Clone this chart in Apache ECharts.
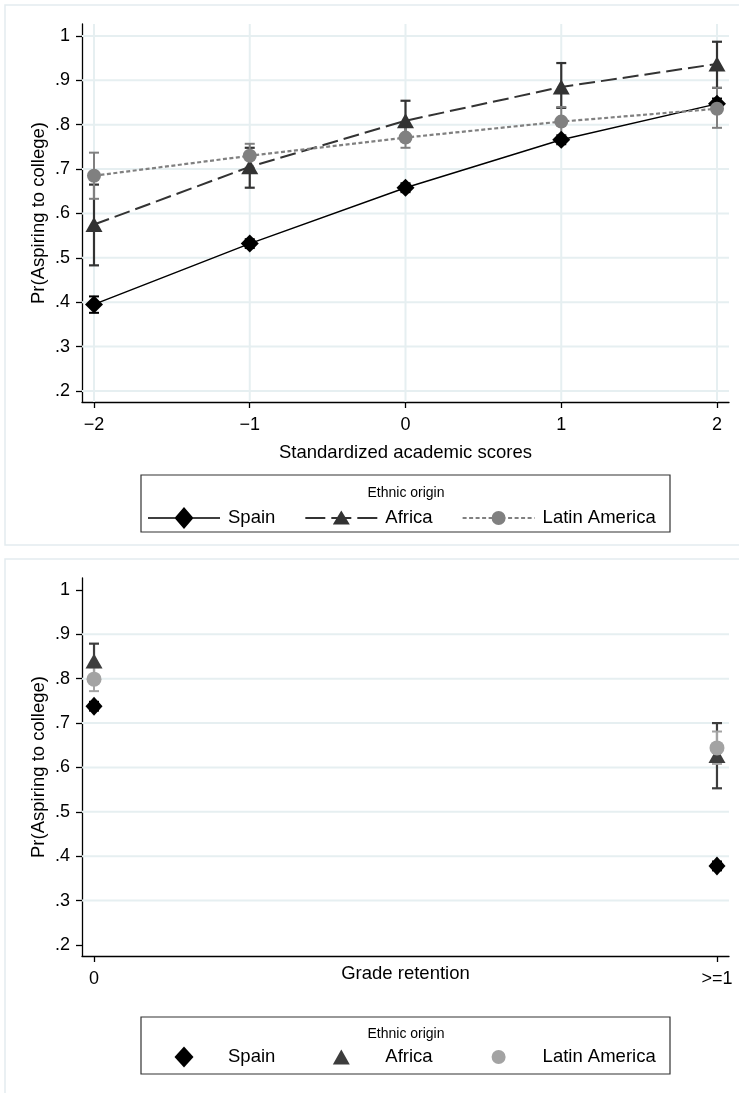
<!DOCTYPE html>
<html><head><meta charset="utf-8">
<script src="https://cdn.jsdelivr.net/npm/echarts@6/dist/echarts.min.js"></script>
<style>html,body{margin:0;padding:0;background:#fff}#chart{width:739px;height:1093px}</style>
</head><body><div id="chart"></div>
<script>
// ---- data: top panel (standardized academic scores) ----
const scoreValues = [-2, -1, 0, 1, 2];
const scoreTickLabels = ['\u22122', '\u22121', '0', '1', '2'];
const probTickValues = [0.2, 0.3, 0.4, 0.5, 0.6, 0.7, 0.8, 0.9, 1];
const probTickLabels = ['.2', '.3', '.4', '.5', '.6', '.7', '.8', '.9', '1'];
const seriesNames = ['Spain', 'Africa', 'Latin America'];

const spainScore   = [0.395, 0.532, 0.658, 0.766, 0.847];
const spainScoreLo = [0.376, 0.522, 0.648, 0.756, 0.835];
const spainScoreHi = [0.413, 0.542, 0.668, 0.776, 0.859];
const africaScore   = [0.575, 0.705, 0.809, 0.885, 0.937];
const africaScoreLo = [0.483, 0.658, 0.764, 0.838, 0.883];
const africaScoreHi = [0.665, 0.748, 0.854, 0.939, 0.987];
const latamScore   = [0.685, 0.730, 0.771, 0.807, 0.836];
const latamScoreLo = [0.633, 0.703, 0.748, 0.774, 0.793];
const latamScoreHi = [0.737, 0.757, 0.795, 0.840, 0.883];

// ---- data: bottom panel (grade retention) ----
const retentionValues = [0, 1];
const retentionTickLabels = ['0', '>=1'];
const bottomGridValues = [0.3, 0.4, 0.5, 0.6, 0.7, 0.8, 0.9];
const spainRet   = [0.738, 0.378];
const spainRetLo = [0.728, 0.368];
const spainRetHi = [0.748, 0.388];
const africaRet   = [0.840, 0.627];
const africaRetLo = [0.800, 0.553];
const africaRetHi = [0.879, 0.700];
const latamRet   = [0.799, 0.644];
const latamRetLo = [0.772, 0.608];
const latamRetHi = [0.826, 0.681];

// ---- helpers ----
const FONT = '"Liberation Sans", Arial, Helvetica, sans-serif';
function labelFor(values, labels) {
  return function (v) {
    const i = values.findIndex(t => Math.abs(t - v) < 1e-6);
    return i >= 0 ? labels[i] : '';
  };
}
const GRID_COLOR = '#e6eff1';
function hGridSeries(xi, yi, values) {
  return {
    type: 'custom', xAxisIndex: xi, yAxisIndex: yi, silent: true, z: 1,
    data: values.map(v => [v]), encode: { y: 0 },
    renderItem: function (params, api) {
      const cs = params.coordSys;
      const p = api.coord([0, api.value(0)]);
      return { type: 'line', shape: { x1: cs.x, y1: p[1], x2: cs.x + cs.width, y2: p[1] },
        style: { stroke: GRID_COLOR, lineWidth: 2 } };
    }
  };
}
function vGridSeries(xi, yi, values) {
  return {
    type: 'custom', xAxisIndex: xi, yAxisIndex: yi, silent: true, z: 1,
    data: values.map(v => [v]), encode: { x: 0 },
    renderItem: function (params, api) {
      const cs = params.coordSys;
      const p = api.coord([api.value(0), 0.5]);
      return { type: 'line', shape: { x1: p[0], y1: cs.y, x2: p[0], y2: cs.y + cs.height },
        style: { stroke: GRID_COLOR, lineWidth: 2 } };
    }
  };
}
function errSeries(xi, yi, xs, lo, hi, color, width, cap) {
  return {
    type: 'custom', xAxisIndex: xi, yAxisIndex: yi, silent: true, z: 2,
    data: xs.map((x, i) => [x, lo[i], hi[i]]), encode: { x: 0, y: [1, 2] },
    renderItem: function (params, api) {
      const x = api.value(0);
      const a = api.coord([x, api.value(1)]);
      const b = api.coord([x, api.value(2)]);
      const st = { stroke: color, lineWidth: width };
      return { type: 'group', children: [
        { type: 'line', shape: { x1: a[0], y1: a[1], x2: b[0], y2: b[1] }, style: st },
        { type: 'line', shape: { x1: a[0] - cap, y1: a[1], x2: a[0] + cap, y2: a[1] }, style: st },
        { type: 'line', shape: { x1: b[0] - cap, y1: b[1], x2: b[0] + cap, y2: b[1] }, style: st }
      ] };
    }
  };
}
function lineSeries(name, xs, ys, color, lineType, lineWidth, symbol, size) {
  return {
    name: name, type: 'line', xAxisIndex: 0, yAxisIndex: 0, z: 2,
    data: xs.map((x, i) => [x, ys[i]]),
    symbol: symbol, symbolSize: size, showSymbol: true,
    lineStyle: { color: color, width: lineWidth, type: lineType },
    itemStyle: { color: color, borderWidth: 0 },
    emphasis: { disabled: true }
  };
}
function scatterSeries(name, xs, ys, color, symbol, size) {
  return {
    name: name, type: 'scatter', xAxisIndex: 1, yAxisIndex: 1, z: 2,
    data: xs.map((x, i) => [x, ys[i]]),
    symbol: symbol, symbolSize: size,
    itemStyle: { color: color, opacity: 1, borderWidth: 0 },
    emphasis: { disabled: true }
  };
}
const axisLineStyle = { color: '#000', width: 1.3 };
function yAxisCfg(gi) {
  return {
    gridIndex: gi, type: 'value', min: 0.175, max: 1.027,
    axisLine: { show: true, onZero: false, lineStyle: axisLineStyle },
    axisTick: { show: true, length: 6, customValues: probTickValues, lineStyle: axisLineStyle },
    axisLabel: { customValues: probTickValues, formatter: labelFor(probTickValues, probTickLabels),
      fontSize: 18, color: '#000', margin: 12, fontFamily: FONT },
    splitLine: { show: false },
    name: 'Pr(Aspiring to college)', nameLocation: 'middle', nameGap: 34, nameMoveOverlap: false,
    nameTextStyle: { fontSize: 18.5, color: '#000', fontFamily: FONT }
  };
}

const C_SPAIN = '#000000', C_AFR = '#333333', C_LAT = '#808080';
const C_AFR2 = '#3d3d3d', C_LAT2 = '#a3a3a3';

// ---- legend key drawings (72 px wide key boxes) ----
function hBar(x1, x2, yc, h) {
  const y1 = yc - h / 2, y2 = yc + h / 2;
  return 'M' + x1 + ',' + y1 + 'L' + x2 + ',' + y1 + 'L' + x2 + ',' + y2 + 'L' + x1 + ',' + y2 + 'Z';
}
function dashedBar(dash, gap, yc, h) {
  let s = '';
  for (let x = 0; x < 72; x += dash + gap) s += hBar(x, Math.min(72, x + dash), yc, h);
  return s;
}
const KEY_SPAIN_LINE = 'path://M0,0M72,25' + hBar(0, 72, 12.5, 1.5) + 'M36,1.5L45.5,12.5L36,23.5L26.5,12.5Z';
const KEY_AFRICA_LINE = 'path://M0,0M72,25' + hBar(0, 20, 12.5, 2) + hBar(26, 46, 12.5, 2) + hBar(52, 72, 12.5, 2) + 'M36,5L44.5,19L27.5,19Z';
const KEY_LATAM_LINE = 'path://M0,0M72,25' + dashedBar(4, 2.5, 12.5, 2) + 'M29,12.5A7,7,0,1,1,43,12.5A7,7,0,1,1,29,12.5Z';
const KEY_DIAMOND = 'path://M0,0M72,21M36,0L45.5,10.5L36,21L26.5,10.5Z';
const KEY_TRIANGLE = 'path://M0,0M72,21M36,3L44.5,18L27.5,18Z';
const KEY_CIRCLE = 'path://M0,0M72,21M29,10.5A7,7,0,1,1,43,10.5A7,7,0,1,1,29,10.5Z';

const option = {
  animation: false,
  textStyle: { fontFamily: FONT },
  grid: [
    { left: 82, right: 10, top: 24, height: 378, outerBoundsMode: 'none', containLabel: false },
    { left: 82, right: 10, top: 578, height: 378, outerBoundsMode: 'none', containLabel: false }
  ],
  xAxis: [
    {
      gridIndex: 0, type: 'value', min: -2.077, max: 2.077,
      axisLine: { show: true, onZero: false, lineStyle: axisLineStyle },
      axisTick: { show: true, length: 6, customValues: scoreValues, lineStyle: axisLineStyle },
      axisLabel: { customValues: scoreValues, formatter: labelFor(scoreValues, scoreTickLabels),
        fontSize: 18, color: '#000', margin: 14, fontFamily: FONT },
      splitLine: { show: false },
      name: 'Standardized academic scores', nameLocation: 'middle', nameGap: 41, nameMoveOverlap: false,
      nameTextStyle: { fontSize: 18.5, color: '#000', fontFamily: FONT }
    },
    {
      gridIndex: 1, type: 'value', min: -0.0193, max: 1.0193,
      axisLine: { show: true, onZero: false, lineStyle: axisLineStyle },
      axisTick: { show: true, length: 6, customValues: retentionValues, lineStyle: axisLineStyle },
      axisLabel: { customValues: retentionValues, formatter: labelFor(retentionValues, retentionTickLabels),
        fontSize: 18, color: '#000', margin: 14, fontFamily: FONT },
      splitLine: { show: false },
      name: 'Grade retention', nameLocation: 'middle', nameGap: 8, nameMoveOverlap: false,
      nameTextStyle: { fontSize: 18.5, color: '#000', fontFamily: FONT }
    }
  ],
  yAxis: [yAxisCfg(0), yAxisCfg(1)],
  legend: [
    {
      data: [
        { name: seriesNames[0], icon: KEY_SPAIN_LINE, itemStyle: { color: C_SPAIN } },
        { name: seriesNames[1], icon: KEY_AFRICA_LINE, itemStyle: { color: C_AFR } },
        { name: seriesNames[2], icon: KEY_LATAM_LINE, itemStyle: { color: C_LAT } }
      ],
      left: 148, top: 505.5, orient: 'horizontal', padding: 0, symbolKeepAspect: true,
      itemWidth: 72, itemHeight: 25, itemGap: 30, selectedMode: false,
      textStyle: { fontSize: 18.5, color: '#000', fontFamily: FONT, padding: [0, 0, 0, 3] }
    },
    {
      data: [
        { name: seriesNames[0], icon: KEY_DIAMOND, itemStyle: { color: C_SPAIN } },
        { name: seriesNames[1], icon: KEY_TRIANGLE, itemStyle: { color: C_AFR2 } },
        { name: seriesNames[2], icon: KEY_CIRCLE, itemStyle: { color: C_LAT2 } }
      ],
      left: 148, top: 1046.5, orient: 'horizontal', padding: 0, symbolKeepAspect: true,
      itemWidth: 72, itemHeight: 21, itemGap: 30, selectedMode: false,
      textStyle: { fontSize: 18.5, color: '#000', fontFamily: FONT, padding: [0, 0, 0, 3] }
    }
  ],
  graphic: [
    { type: 'rect', z: 0, silent: true, shape: { x: 5, y: 5, width: 740, height: 540 },
      style: { fill: 'none', stroke: '#e3ecef', lineWidth: 1.5 } },
    { type: 'rect', z: 0, silent: true, shape: { x: 5, y: 559, width: 740, height: 540 },
      style: { fill: 'none', stroke: '#e3ecef', lineWidth: 1.5 } },
    { type: 'rect', z: 0, silent: true, shape: { x: 141, y: 475, width: 529, height: 57 },
      style: { fill: '#fff', stroke: '#333', lineWidth: 1.2 } },
    { type: 'rect', z: 0, silent: true, shape: { x: 141, y: 1017, width: 529, height: 57 },
      style: { fill: '#fff', stroke: '#333', lineWidth: 1.2 } },
    { type: 'text', z: 1, silent: true, x: 406, y: 493,
      style: { text: 'Ethnic origin', font: '14px ' + FONT, fill: '#000', align: 'center', verticalAlign: 'middle' } },
    { type: 'text', z: 1, silent: true, x: 406, y: 1034,
      style: { text: 'Ethnic origin', font: '14px ' + FONT, fill: '#000', align: 'center', verticalAlign: 'middle' } }
  ],
  series: [
    hGridSeries(0, 0, probTickValues),
    vGridSeries(0, 0, scoreValues),
    hGridSeries(1, 1, bottomGridValues),

    errSeries(0, 0, scoreValues, spainScoreLo, spainScoreHi, C_SPAIN, 2, 5),
    lineSeries(seriesNames[0], scoreValues, spainScore, C_SPAIN, 'solid', 1.5, 'diamond', 18),
    errSeries(0, 0, scoreValues, africaScoreLo, africaScoreHi, C_AFR, 2.2, 5),
    lineSeries(seriesNames[1], scoreValues, africaScore, C_AFR, [16, 6], 2, 'triangle', [17, 15]),
    errSeries(0, 0, scoreValues, latamScoreLo, latamScoreHi, C_LAT, 2, 5),
    lineSeries(seriesNames[2], scoreValues, latamScore, C_LAT, [4, 2.5], 2.2, 'circle', 14),

    errSeries(1, 1, retentionValues, spainRetLo, spainRetHi, C_SPAIN, 2, 5),
    scatterSeries(seriesNames[0], retentionValues, spainRet, C_SPAIN, 'diamond', [17, 19]),
    errSeries(1, 1, retentionValues, africaRetLo, africaRetHi, C_AFR2, 2.2, 5),
    scatterSeries(seriesNames[1], retentionValues, africaRet, C_AFR2, 'triangle', [17, 15]),
    errSeries(1, 1, retentionValues, latamRetLo, latamRetHi, C_LAT2, 2, 5),
    scatterSeries(seriesNames[2], retentionValues, latamRet, C_LAT2, 'circle', 15)
  ]
};
const chart = echarts.init(document.getElementById('chart'), null, { renderer: 'canvas' });
chart.setOption(option);
</script>
</body></html>
